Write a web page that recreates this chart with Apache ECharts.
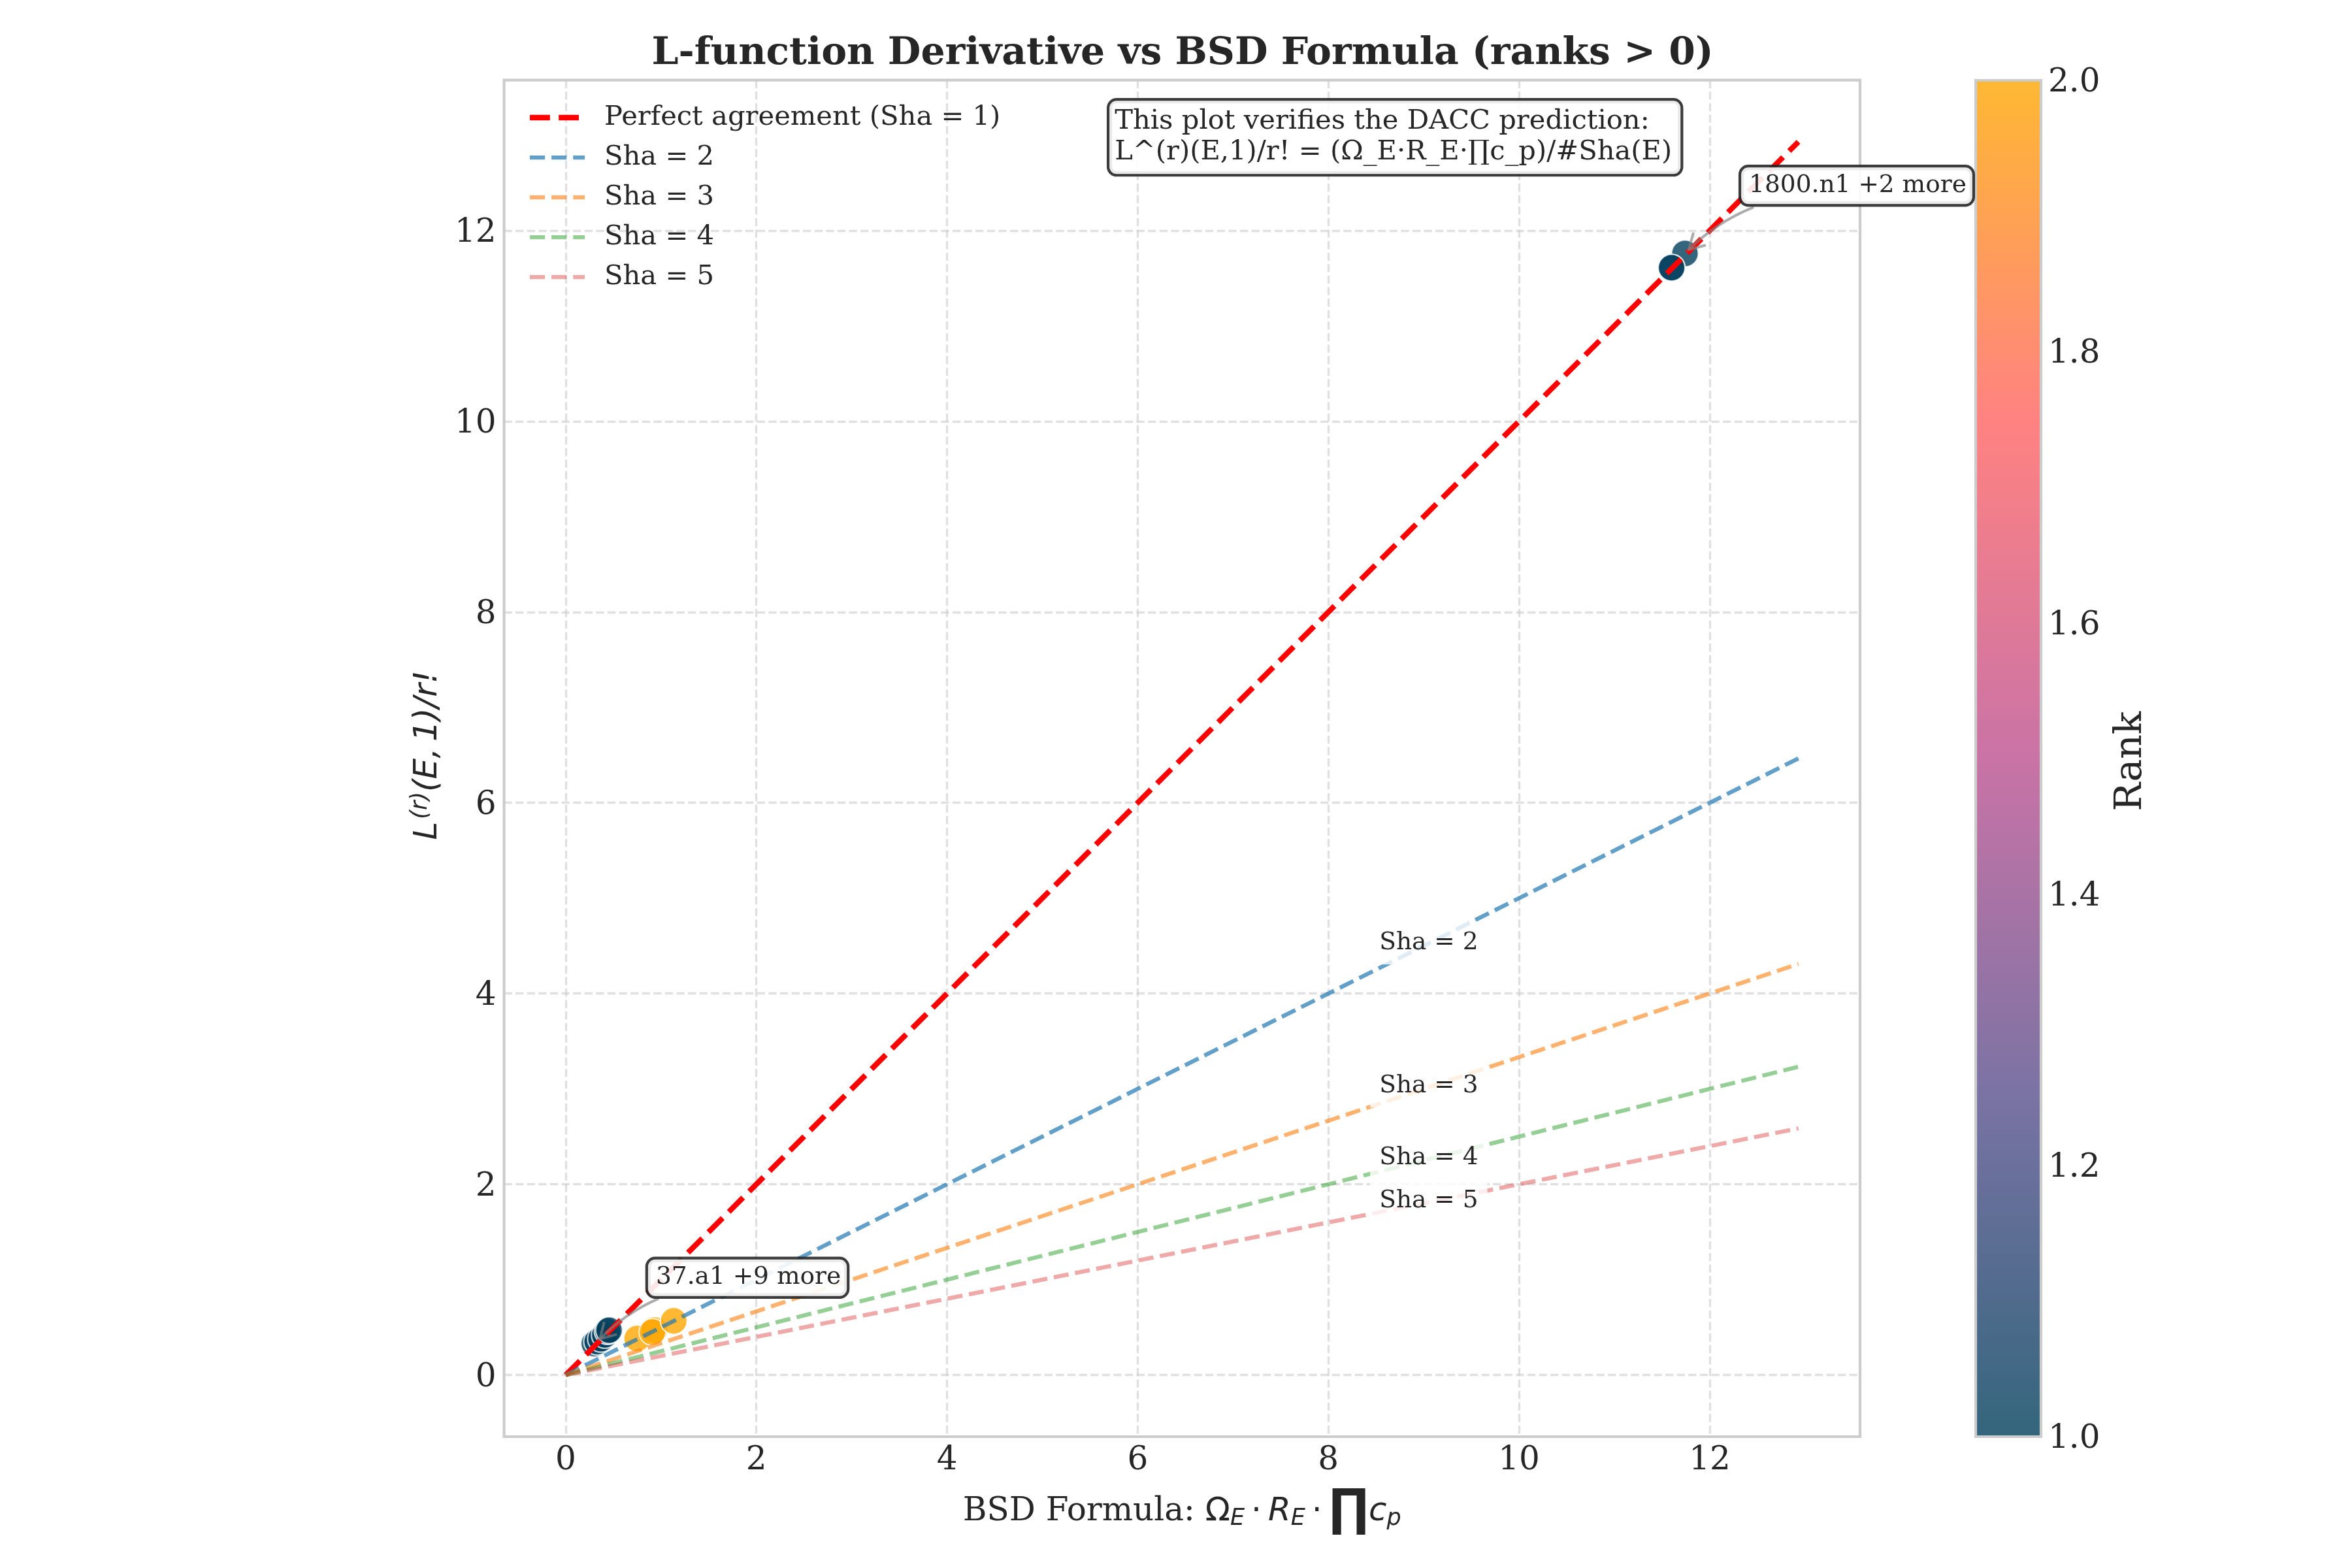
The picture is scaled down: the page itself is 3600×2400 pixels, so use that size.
<!DOCTYPE html>
<html><head><meta charset="utf-8">
<style>html,body{margin:0;padding:0;background:#fff}#c{width:3600px;height:2400px}</style>
<script src="https://cdn.jsdelivr.net/npm/echarts@6/dist/echarts.min.js"></script>
</head><body><div id="c"></div>
<script>
const titleText = 'L-function Derivative vs BSD Formula (ranks > 0)';
const tickValues = [0, 2, 4, 6, 8, 10, 12];
const rankTicks = [1.0, 1.2, 1.4, 1.6, 1.8, 2.0];
const palette = ['#003f5c', '#58508d', '#bc5090', '#ff6361', '#ffa600'];

const lineX = [0, 12.93];
const sha1Y = [0, 12.93];
const sha2Y = [0, 6.465];
const sha3Y = [0, 4.31];
const sha4Y = [0, 3.2325];
const sha5Y = [0, 2.586];

const scatterX = [0.75, 0.93, 0.91, 1.133, 0.30, 0.33, 0.37, 0.41, 0.44, 0.455, 11.74, 11.60, 11.60];
const scatterY = [0.383, 0.472, 0.452, 0.568, 0.33, 0.35, 0.38, 0.42, 0.46, 0.47, 11.76, 11.61, 11.61];
const scatterRank = [2, 2, 2, 2, 1, 1, 1, 1, 1, 1, 1, 1, 1];

const shaLabels = ['Sha = 2', 'Sha = 3', 'Sha = 4', 'Sha = 5'];
const shaLabelX = [8.5, 8.5, 8.5, 8.5];
const shaLabelY = [4.53, 3.03, 2.275, 1.825];

const noteTexts = ['37.a1 +9 more', '1800.n1 +2 more'];
const noteBoxX = [0.864, 12.33];
const noteBoxY = [1.02, 12.47];
const arrowFromX = [0.975, 12.46];
const arrowFromY = [0.802, 12.245];
const arrowToX = [0.359, 11.78];
const arrowToY = [0.377, 11.80];

const SERIF = '"DejaVu Serif", serif';
const SANS = '"DejaVu Sans", sans-serif';
const INK = '#262626';
const AX = 4.17;
const tickRich = { a: { fontFamily: SERIF, fontSize: 50, color: INK, padding: [9, 0, 0, 0] } };

function zip(a, b) { return a.map((v, i) => [v, b[i]]); }
function lineSeries(name, ys, color, opacity, width) {
  return {
    name, type: 'line', data: zip(lineX, ys), showSymbol: false, symbol: 'none', z: 3, silent: true, clip: false,
    lineStyle: { color, opacity, width, type: [3.7 * width, 1.6 * width], cap: 'butt' },
    itemStyle: { color, opacity }
  };
}
function dashIcon(width) {
  const on = 3.7 * width, off = 1.6 * width, H = 14, W = 84;
  const top = (H - width) / 2, bot = top + width;
  let p = 'path://M0 0L0.01 0L0.01 0.01ZM84 14L83.99 14L83.99 13.99Z';
  for (let x = 0; x < W; x += on + off) {
    const e = Math.min(W, x + on);
    p += `M${x} ${top}L${e} ${top}L${e} ${bot}L${x} ${bot}Z`;
  }
  return p;
}
function legendItem(name, color, opacity, width) {
  return { name, icon: dashIcon(width), itemStyle: { color, opacity, borderWidth: 0 } };
}
const gridLine = { show: true, lineStyle: { color: 'rgba(204,204,204,0.6)', width: 3.33, type: [12.3, 5.3] } };
function mainX() {
  return {
    type: 'value', gridIndex: 0, min: -0.6465, max: 13.5765,
    axisLine: { show: false }, splitLine: gridLine,
    axisTick: { show: false, customValues: tickValues },
    axisLabel: { customValues: tickValues, fontFamily: SERIF, fontSize: 50, color: INK, margin: 12, formatter: v => String(v) },
    name: '{s|BSD Formula: }{m|Ω}{sub|E}{m|\u2009·\u2009}{mi|R}{sub|E}{m|\u2009·\u2009}{big|∏}{mi|c}{sub|p}',
    nameLocation: 'middle', nameGap: 76,
    nameTextStyle: {
      rich: {
        s: { fontFamily: SERIF, fontSize: 50, color: INK },
        m: { fontFamily: SANS, fontSize: 50, color: INK },
        mi: { fontFamily: SANS, fontStyle: 'italic', fontSize: 50, color: INK },
        sub: { fontFamily: SANS, fontStyle: 'italic', fontSize: 35, color: INK, padding: [22, 0, 0, 0] },
        big: { fontFamily: SANS, fontSize: 78, fontWeight: 'bold', color: INK }
      }
    }
  };
}
function mainY() {
  return {
    type: 'value', gridIndex: 0, min: -0.6465, max: 13.5765,
    axisLine: { show: false }, splitLine: gridLine,
    axisTick: { show: false, customValues: tickValues },
    axisLabel: { customValues: tickValues, margin: 12, rich: tickRich, formatter: v => `{a|${v}}` },
    name: '{m|L}{sup|(r)}{m|(E,\u20091)/r!}',
    nameLocation: 'middle', nameRotate: 90, nameGap: 88,
    nameTextStyle: {
      padding: [0, 0, 0, 10],
      rich: {
        m: { fontFamily: SANS, fontStyle: 'italic', fontSize: 50, color: INK },
        sup: { fontFamily: SANS, fontStyle: 'italic', fontSize: 35, color: INK, padding: [0, 0, 22, 4] }
      }
    }
  };
}
const cbLine = { show: true, onZero: false, lineStyle: { color: '#cccccc', width: AX } };
const cbGradient = new echarts.graphic.LinearGradient(0, 1, 0, 0, palette.map((c, i) => {
  const n = parseInt(c.slice(1), 16);
  return { offset: i / (palette.length - 1), color: `rgba(${n >> 16},${(n >> 8) & 255},${n & 255},0.8)` };
}));

const option = {
  backgroundColor: '#ffffff',
  animation: false,
  title: {
    text: titleText, left: 1805, top: 49, textAlign: 'center',
    textStyle: { fontFamily: SERIF, fontWeight: 'bold', fontSize: 58.33, color: INK }
  },
  legend: {
    left: 806, top: 151, orient: 'vertical', itemWidth: 84, itemHeight: 14, itemGap: 13,
    data: [
      legendItem('Perfect agreement (Sha = 1)', '#ff0000', 1, 8.33),
      legendItem('Sha = 2', '#1f77b4', 0.7, 6.25),
      legendItem('Sha = 3', '#ff7f0e', 0.6, 6.25),
      legendItem('Sha = 4', '#2ca02c', 0.5, 6.25),
      legendItem('Sha = 5', '#d62728', 0.4, 6.25)
    ],
    textStyle: { fontFamily: SERIF, fontSize: 41.67, color: INK, lineHeight: 48, height: 48, padding: [0, 0, 0, 25] },
    selectedMode: false
  },
  grid: [
    { left: 771.5, top: 122.7, width: 2075.5, height: 2076.3, show: true, borderColor: '#cccccc', borderWidth: AX, backgroundColor: 'transparent' },
    { left: 3024, top: 122.7, width: 100, height: 2076.3 }
  ],
  xAxis: [
    mainX(),
    { type: 'category', gridIndex: 1, data: ['Rank'], position: 'bottom', z: 6, axisLine: cbLine, axisTick: { show: false }, axisLabel: { show: false } },
    { type: 'category', gridIndex: 1, data: ['Rank'], position: 'top', z: 6, axisLine: cbLine, axisTick: { show: false }, axisLabel: { show: false } }
  ],
  yAxis: [
    mainY(),
    {
      type: 'value', gridIndex: 1, min: 1, max: 2, position: 'right', z: 6,
      axisLine: cbLine, axisTick: { show: false, customValues: rankTicks }, splitLine: { show: false },
      axisLabel: { customValues: rankTicks, margin: 11, rich: tickRich, formatter: v => `{a|${v.toFixed(1)}}` },
      name: 'Rank', nameLocation: 'middle', nameRotate: 90, nameGap: 109,
      nameTextStyle: { fontFamily: SERIF, fontSize: 58.33, color: INK, padding: [0, 9, 0, 0] }
    },
    {
      type: 'value', gridIndex: 1, min: 1, max: 2, position: 'left', z: 6,
      axisLine: cbLine, axisTick: { show: false }, splitLine: { show: false }, axisLabel: { show: false }
    }
  ],
  visualMap: {
    show: false, type: 'continuous', seriesIndex: 0, dimension: 2, min: 1, max: 2,
    inRange: { color: palette }
  },
  series: [
    {
      type: 'scatter', name: 'points', xAxisIndex: 0, yAxisIndex: 0, z: 2, symbolSize: 41, silent: true,
      data: scatterX.map((x, i) => [x, scatterY[i], scatterRank[i]]),
      itemStyle: { opacity: 0.8, borderColor: '#ffffff', borderWidth: 2.1 }
    },
    lineSeries('Perfect agreement (Sha = 1)', sha1Y, '#ff0000', 1, 8.33),
    lineSeries('Sha = 2', sha2Y, '#1f77b4', 0.7, 6.25),
    lineSeries('Sha = 3', sha3Y, '#ff7f0e', 0.6, 6.25),
    lineSeries('Sha = 4', sha4Y, '#2ca02c', 0.5, 6.25),
    lineSeries('Sha = 5', sha5Y, '#d62728', 0.4, 6.25),
    {
      type: 'scatter', name: 'shaLabels', xAxisIndex: 0, yAxisIndex: 0, z: 5, symbolSize: 0, silent: true, clip: false,
      itemStyle: { opacity: 1 },
      data: shaLabels.map((t, i) => ({ value: [shaLabelX[i], shaLabelY[i]], label: { formatter: t } })),
      label: {
        show: true, position: 'right', distance: 0, offset: [-9, 0], fontFamily: SERIF, fontSize: 37.5, color: INK,
        backgroundColor: 'rgba(255,255,255,0.8)', padding: [11, 14, 11, 14], lineHeight: 44
      }
    },
    {
      type: 'custom', name: 'arrows', xAxisIndex: 0, yAxisIndex: 0, z: 6, silent: true, clip: false,
      data: arrowFromX.map((x, i) => [x, arrowFromY[i], arrowToX[i], arrowToY[i]]),
      renderItem(params, api) {
        const a = api.coord([api.value(0), api.value(1)]);
        const b = api.coord([api.value(2), api.value(3)]);
        const rad = 0.1, dx = b[0] - a[0], dy = b[1] - a[1];
        const c = [(a[0] + b[0]) / 2 - rad * dy, (a[1] + b[1]) / 2 + rad * dx];
        const t = Math.atan2(b[1] - c[1], b[0] - c[0]);
        const L = 27, w = Math.PI / 6;
        const arm = s => [b[0] - L * Math.cos(t + s * w), b[1] - L * Math.sin(t + s * w)];
        const st = { stroke: 'rgba(128,128,128,0.65)', lineWidth: 4.17, fill: null };
        return {
          type: 'group', children: [
            { type: 'bezierCurve', shape: { x1: a[0], y1: a[1], x2: b[0], y2: b[1], cpx1: c[0], cpy1: c[1] }, style: st },
            { type: 'polyline', shape: { points: [arm(1), b, arm(-1)] }, style: st }
          ]
        };
      }
    },
    {
      type: 'scatter', name: 'notes', xAxisIndex: 0, yAxisIndex: 0, z: 7, symbolSize: 0, silent: true, clip: false,
      itemStyle: { opacity: 1 },
      data: noteTexts.map((t, i) => ({ value: [noteBoxX[i], noteBoxY[i]], label: { formatter: t } })),
      label: {
        show: true, position: 'right', distance: 0, fontFamily: SERIF, fontSize: 37.5, color: INK,
        backgroundColor: 'rgba(255,255,255,0.9)', borderColor: 'rgba(38,38,38,0.9)', borderWidth: 4.17, borderRadius: 11,
        padding: [8, 9, 8, 12], lineHeight: 40
      }
    },
    {
      type: 'bar', name: 'Rank', xAxisIndex: 1, yAxisIndex: 1, barWidth: '100%', silent: true, z: 2,
      data: [2], itemStyle: { color: cbGradient }
    }
  ],
  graphic: [{
    type: 'text', left: 1694, top: 150, z: 20, silent: true,
    style: {
      text: 'This plot verifies the DACC prediction:\nL^(r)(E,1)/r! = (Ω_E·R_E·∏c_p)/#Sha(E)',
      fontFamily: SERIF, fontSize: 41.67, fill: INK, lineHeight: 47,
      backgroundColor: 'rgba(255,255,255,0.9)', borderColor: 'rgba(38,38,38,0.9)', borderWidth: 4.17, borderRadius: 11,
      padding: [9, 13, 9, 8]
    }
  }]
};
const chart = echarts.init(document.getElementById('c'), null, { renderer: 'canvas', width: 3600, height: 2400, devicePixelRatio: 1 });
chart.setOption(option);
</script></body></html>
